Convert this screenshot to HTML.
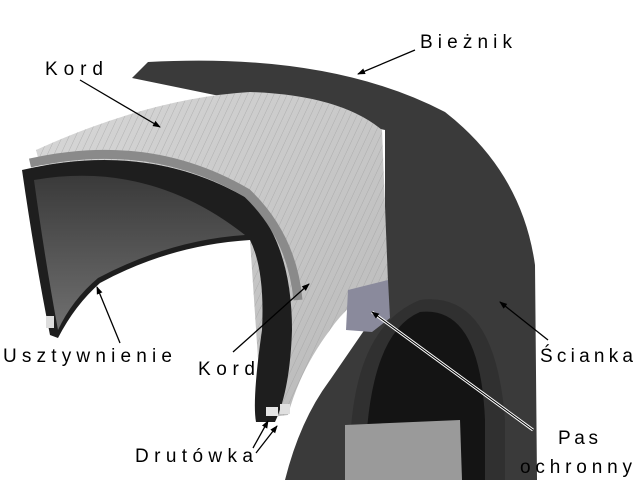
<!DOCTYPE html>
<html><head><meta charset="utf-8"><style>html,body{margin:0;padding:0;background:#fff}svg{display:block}</style></head>
<body>
<svg width="640" height="480" viewBox="0 0 640 480" xmlns="http://www.w3.org/2000/svg">
<defs>
<linearGradient id="cg" x1="0" y1="0" x2="1" y2="1"><stop offset="0" stop-color="#d8d8d8"/><stop offset="1" stop-color="#b8b8b8"/></linearGradient>
<linearGradient id="ig" x1="0" y1="0" x2="0" y2="1"><stop offset="0" stop-color="#3a3a3a"/><stop offset="1" stop-color="#707070"/></linearGradient>
<pattern id="hatch" width="6" height="6" patternUnits="userSpaceOnUse" patternTransform="rotate(25)"><line x1="0" y1="0" x2="0" y2="6" stroke="#9a9a9a" stroke-width="1"/></pattern>
<marker id="ah" markerWidth="8" markerHeight="8" refX="7" refY="4" orient="auto" markerUnits="userSpaceOnUse"><path d="M0,1 L8,4 L0,7 Z" fill="#000"/></marker>
</defs>
<path d="M132,78 L148,62 Q330,52 445,112 Q522,172 535,265 L537,480 L285,480 Q300,420 330,380 L385,300 L385,130 Z" fill="#3a3a3a"/>
<path d="M350,480 Q345,330 420,300 Q495,290 505,420 L505,480 Z" fill="#303030"/>
<path d="M365,480 Q365,335 420,312 Q480,305 485,420 L485,480 Z" fill="#141414"/>
<path d="M345,425 L460,420 L462,480 L345,480 Z" fill="#9a9a9a"/>
<path d="M36,150 Q150,98 250,92 Q340,95 382,130 L388,282 Q350,300 330,330 Q300,370 288,415 L262,418 L250,240 Q180,160 40,165 Z" fill="url(#cg)"/>
<path d="M36,150 Q150,98 250,92 Q340,95 382,130 L388,282 Q350,300 330,330 Q300,370 288,415 L262,418 L250,240 Q180,160 40,165 Z" fill="url(#hatch)" opacity="0.6"/>
<path d="M348,290 L388,280 L390,318 L372,332 L346,330 Z" fill="#8a8a9c"/>
<path d="M22,170 Q150,140 250,200 Q292,245 292,330 Q290,390 275,422 L256,422 Q252,400 262,330 Q265,270 250,240 Q170,245 100,283 Q75,305 58,338 L50,335 Q35,260 22,170 Z" fill="#1e1e1e"/>
<path d="M34,180 Q150,160 245,235 Q170,240 98,278 Q72,300 58,330 Q45,260 34,180 Z" fill="url(#ig)"/>
<path d="M30,163 Q150,136 247,193 Q292,236 298,300" stroke="#8a8a8a" stroke-width="9" fill="none"/>
<rect x="46" y="316" width="8" height="12" fill="#ddd"/>
<rect x="266" y="407" width="12" height="9" fill="#e6e6e6"/><rect x="280" y="404" width="10" height="10" fill="#e0e0e0"/>
<g stroke="#000" stroke-width="1.3" fill="none">
<line x1="80" y1="80" x2="160" y2="127" marker-end="url(#ah)"/>
<line x1="415" y1="50" x2="358" y2="74" marker-end="url(#ah)"/>
<line x1="120" y1="343" x2="97" y2="287" marker-end="url(#ah)"/>
<line x1="233" y1="352" x2="309" y2="284" marker-end="url(#ah)"/>
<line x1="548" y1="340" x2="500" y2="302" marker-end="url(#ah)"/>
<line x1="253" y1="448" x2="268" y2="421" marker-end="url(#ah)"/>
<line x1="256" y1="453" x2="277" y2="426" marker-end="url(#ah)"/>
</g>
<line x1="533" y1="430" x2="372" y2="312" stroke="#fff" stroke-width="3"/>
<line x1="533" y1="430" x2="372" y2="312" stroke="#000" stroke-width="1" marker-end="url(#ah)"/>
<g font-family="Liberation Sans, sans-serif" font-size="19" fill="#000">
<text x="45" y="75" textLength="58">Kord</text>
<text x="420" y="48" textLength="92">Bieżnik</text>
<text x="3" y="362" textLength="169">Usztywnienie</text>
<text x="198" y="375" textLength="57">Kord</text>
<text x="540" y="362" textLength="93">Ścianka</text>
<text x="558" y="444" textLength="40">Pas</text>
<text x="520" y="473" textLength="112">ochronny</text>
<text x="135" y="462" textLength="118">Drutówka</text>
</g>
</svg>
</body></html>
